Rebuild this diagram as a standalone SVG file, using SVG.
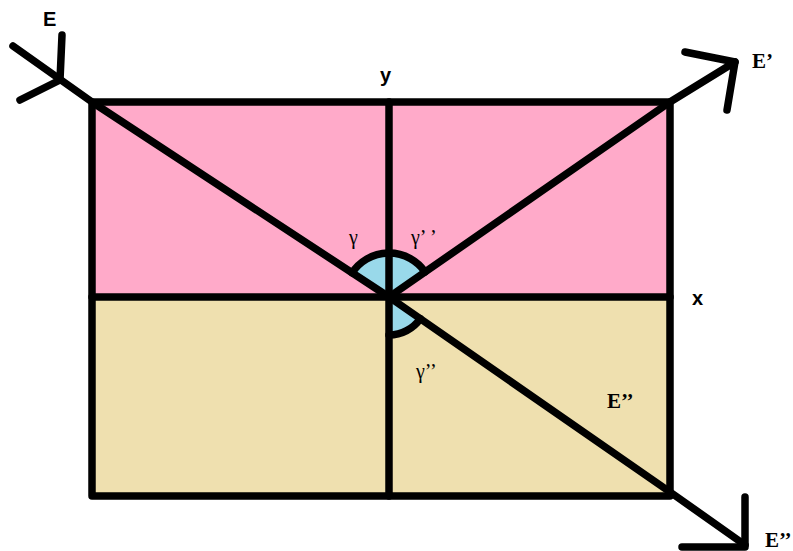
<svg xmlns="http://www.w3.org/2000/svg" width="793" height="551" viewBox="0 0 793 551">
<style>
.ln{stroke:#000;stroke-width:7.5;fill:none;stroke-linecap:round;stroke-linejoin:round}
.sans{font-family:"Liberation Sans",Arial,sans-serif;font-weight:bold;font-size:20px;fill:#000}
.serif{font-family:"Liberation Serif","Times New Roman",serif;font-weight:bold;font-size:21px;fill:#000}
.greek{font-family:"Liberation Serif","Times New Roman",serif;font-size:20px;fill:#000}
</style>
<rect width="793" height="551" fill="#fff"/>
<g id="upper-region">
<rect x="92" y="102" width="578" height="195" fill="#FFAAC9"/>
</g>
<g id="lower-region">
<rect x="92" y="297" width="578" height="199" fill="#EFE0AF"/>
</g>
<g id="angles">
<path d="M389,297 L352.1,272.9 A44,44 0 0 1 425.0,271.9 Z" fill="#99D9EA"/>
<path d="M352.1,272.9 A44,44 0 0 1 425.0,271.9" class="ln" stroke-width="5"/>
<path d="M389,297 L389,335 A38,38 0 0 0 420.3,318.6 Z" fill="#99D9EA"/>
<path d="M389,335 A38,38 0 0 0 420.3,318.6" class="ln" stroke-width="5"/>
</g>
<g id="frame">
<rect x="92" y="102" width="578" height="394" class="ln" stroke-linecap="butt" stroke-linejoin="miter"/>
<line x1="92" y1="297" x2="670" y2="297" class="ln"/>
<line x1="389" y1="102" x2="389" y2="496" class="ln"/>
</g>
<g id="connectors">
<polyline points="13,46 92,102 389,297" class="ln"/>
<polyline points="62,35 60,80 20,100" class="ln"/>
<polyline points="389,297 670,102 735,62" class="ln"/>
<polyline points="685,52 735,62 727,110" class="ln"/>
<polyline points="389,297 670,492 745,545" class="ln"/>
<polyline points="745,497 745,547 682,547" class="ln"/>
</g>
<g id="labels">
<text x="43" y="26" class="sans">E</text>
<text x="380" y="82" class="sans">y</text>
<text x="692" y="305" class="sans">x</text>
<text x="752" y="68" class="serif">E’</text>
<text x="765" y="547" class="serif">E’’</text>
<text x="607" y="408" class="serif">E’’</text>
<text x="349" y="244" class="greek">γ</text>
<text x="411" y="244" class="greek">γ’ ’</text>
<text x="416" y="378" class="greek">γ’’</text>
</g>
</svg>
